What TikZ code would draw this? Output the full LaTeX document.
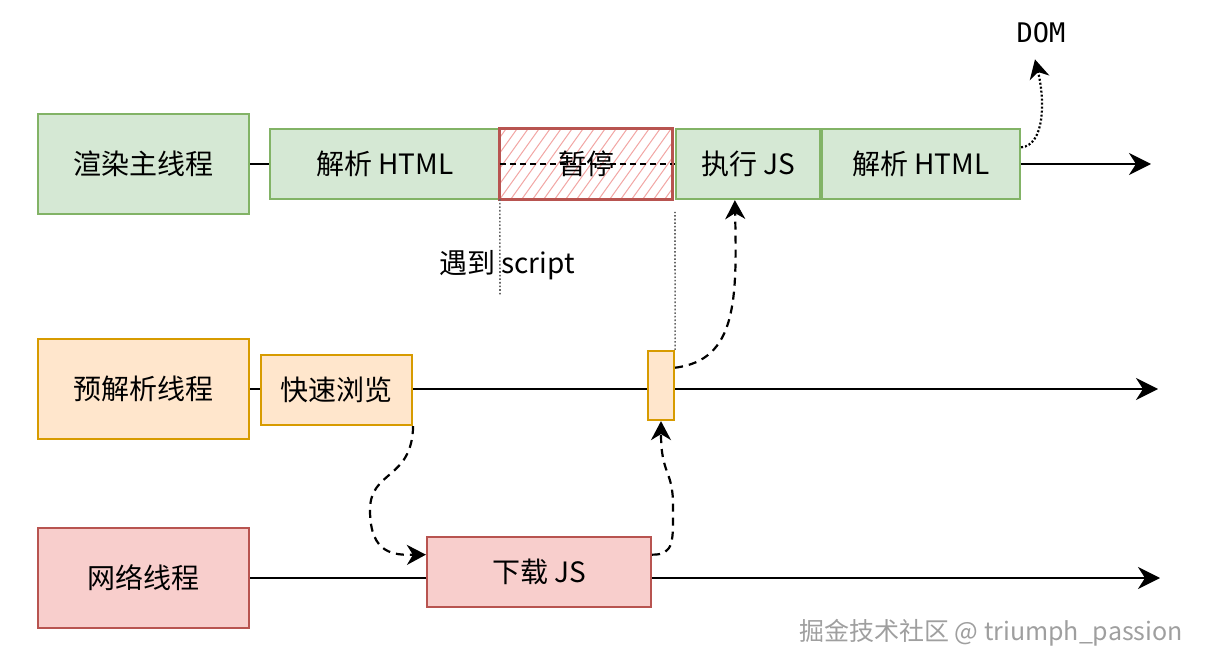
\documentclass[tikz,border=0pt]{standalone}
\usepackage{fontspec}
\setmainfont{Noto Sans CJK SC}
\newfontfamily\codefont{DejaVu Sans Mono}
\usetikzlibrary{arrows.meta,calc}
\definecolor{renderfill}{HTML}{D5E8D4}
\definecolor{renderline}{HTML}{82B366}
\definecolor{preparsefill}{HTML}{FFE6CC}
\definecolor{preparseline}{HTML}{D79B00}
\definecolor{netfill}{HTML}{F8CECC}
\definecolor{netline}{HTML}{B85450}
\definecolor{hatchred}{HTML}{F2A5A3}

\begin{document}
\begin{tikzpicture}[x=1pt, y=-1pt, every node/.style={font=\fontsize{28}{33}\selectfont, inner sep=0pt}, thread/.style={draw, line width=2.2pt, minimum width=211pt, minimum height=100pt}, box/.style={draw, line width=2.2pt, minimum height=70pt}, renderc/.style={fill=renderfill, draw=renderline}, preparsec/.style={fill=preparsefill, draw=preparseline}, netc/.style={fill=netfill, draw=netline}, flow/.style={-{Stealth[length=22pt, width=22pt, inset=7pt]}, line width=2.5pt}, hop/.style={-{Stealth[length=19pt, width=20pt, inset=6pt]}, line width=2.2pt, dash pattern=on 8pt off 6pt}, domhop/.style={-{Stealth[length=19pt, width=20pt, inset=6pt]}, line width=2.2pt, dash pattern=on 2pt off 2pt}, marker/.style={draw=gray!80!black, line width=1.6pt, dash pattern=on 1.6pt off 2pt}, hatch/.style={draw=hatchred, line width=1pt}]
\useasboundingbox (0,0) rectangle (1205,668);
\node[thread, renderc] (render) at (143.5,164) {渲染主线程};
\node[thread, preparsec] (preparse) at (143.5,389) {预解析线程};
\node[thread, netc] (network) at (143.5,578) {网络线程};
\coordinate (end1) at (1151,164);
\coordinate (end2) at (1158,389);
\coordinate (end3) at (1160,578);
\draw[flow] (render.east) -- (end1);
\draw[flow] (preparse.east) -- (end2);
\draw[flow] (network.east) -- (end3);
\node[box, renderc, minimum width=230pt] (parse1) at (385,164) {解析 HTML};
\node[minimum width=172pt, minimum height=70pt, fill=white] (pause) at (586,164) {};
\begin{scope}
\clip (pause.south west) rectangle (pause.north east);
\foreach \dx in {-55,-44,...,176}
  \draw[hatch] ($(pause.south west)+(\dx,0)$) -- ++(50,-70);
\end{scope}
\draw[netline, line width=3pt] (pause.south west) rectangle (pause.north east);
\draw[line width=1.6pt, dash pattern=on 6pt off 4pt] (pause.west) -- (pause.east);
\node (pausetext) at (pause.center) {暂停};
\node[box, renderc, minimum width=144pt] (execjs) at (748,164) {执行 JS};
\node[box, renderc, minimum width=198pt] (parse2) at (921,164) {解析 HTML};
\node[font=\codefont\fontsize{27}{32}\selectfont] (dom) at (1041,33) {DOM};
\node[box, preparsec, minimum width=151pt] (skim) at (336.5,390) {快速浏览};
\node[box, preparsec, minimum width=26pt, minimum height=69pt] (jsready) at (661,385.5) {};
\node[box, netc, minimum width=224pt] (download) at (539,572) {下载 JS};
\node (meet) at (507,265) {遇到 script};
\coordinate (hitend) at (500,295);
\coordinate (readyend) at (675,212);
\draw[marker] (pause.south west) -- (hitend);
\draw[marker] (jsready.north east) -- (readyend);
\draw[hop] (skim.south east) .. controls (412,480) and (370,470) .. (370,510) .. controls (370,555) and (395,555) .. ($(download.north west)!0.26!(download.south west)$);
\draw[hop] ($(download.north east)!0.26!(download.south east)$) .. controls (675,555) and (673,540) .. (673,505) .. controls (673,470) and (661,475) .. (jsready.south);
\draw[hop] ($(jsready.north east)!0.25!(jsready.south east)$) .. controls (737,360) and (737,300) .. ($(execjs.south west)!0.41!(execjs.south east)$);
\draw[domhop] ($(parse2.north east)!0.27!(parse2.south east)$) .. controls (1045,145) and (1045,100) .. ($(dom.south)+(-6,16)$);
\node[text=gray!75, font=\fontsize{25}{30}\selectfont] (mark) at (991,633) {掘金技术社区 @ triumph\_passion};
\end{tikzpicture}
\end{document}
